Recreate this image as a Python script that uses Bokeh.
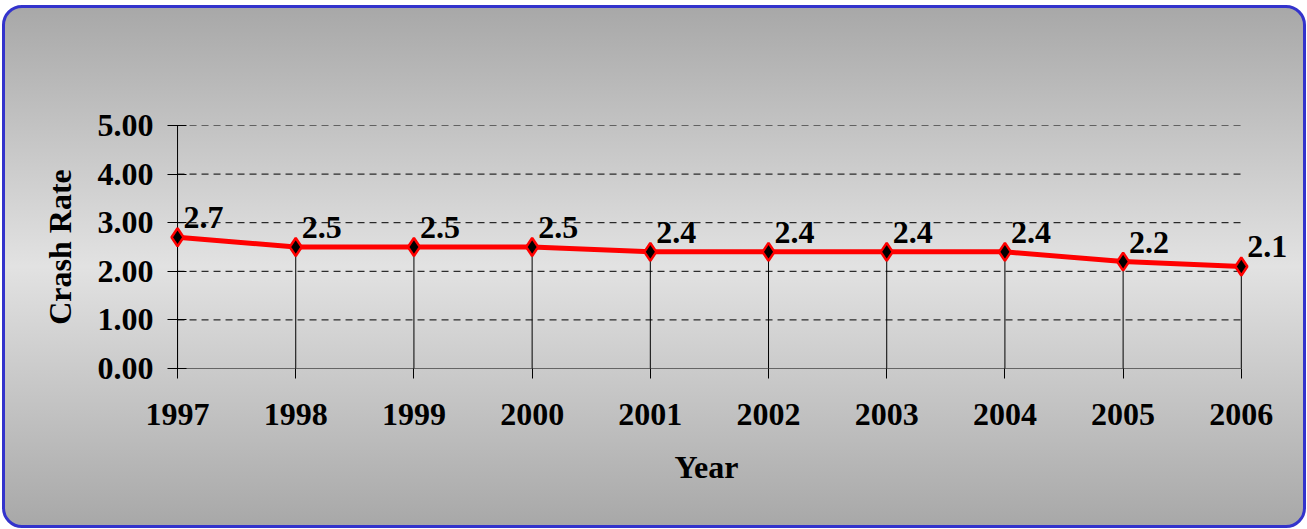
from bokeh.plotting import figure
from bokeh.models import (ColumnDataSource, LabelSet, FixedTicker, Range1d,
                          NumeralTickFormatter, BasicTickFormatter, Title)
from bokeh.embed import file_html
from bokeh.resources import INLINE

years = [1997, 1998, 1999, 2000, 2001, 2002, 2003, 2004, 2005, 2006]
rates = [2.7, 2.5, 2.5, 2.5, 2.4, 2.4, 2.4, 2.4, 2.2, 2.1]
rate_labels = ["2.7", "2.5", "2.5", "2.5", "2.4", "2.4", "2.4", "2.4", "2.2", "2.1"]
y_ticks = [0, 1, 2, 3, 4, 5]

FONT = "Liberation Serif"
FS = "32px"

src = ColumnDataSource(dict(x=years, y=rates, lab=rate_labels, zero=[0] * len(years)))

PAD_L = 0.068   # small padding so the first marker is not clipped
PAD_R = 0.45    # room for the last data label
p = figure(frame_width=1125, frame_height=243,
           min_border_left=164, min_border_right=9,
           min_border_top=117, min_border_bottom=157,
           x_range=Range1d(years[0] - PAD_L, years[-1] + PAD_R),
           y_range=Range1d(y_ticks[0], y_ticks[-1]),
           output_backend="svg", toolbar_location=None)

p.background_fill_color = None
p.border_fill_color = None
p.outline_line_color = None
p.styles = {
    "background": "linear-gradient(to bottom, #a8a8a8 0%, #e2e2e2 50%, #a8a8a8 100%)",
    "border": "3px solid #3333cc",
    "border-radius": "20px",
    "box-sizing": "border-box",
    "margin": "5px 0 0 2px",
}

p.xgrid.grid_line_color = None
p.ygrid.grid_line_color = None

# dashed horizontal gridlines spanning the categories
grid_y = y_ticks[1:]
p.segment(x0=[years[0]] * len(grid_y), x1=[years[-1]] * len(grid_y),
          y0=grid_y, y1=grid_y, line_color="#000000", line_width=1,
          line_dash="7 5")
# axis lines (x baseline and y axis at first year)
p.segment(x0=[years[0]], x1=[years[-1]], y0=[y_ticks[0]], y1=[y_ticks[0]],
          line_color="black", line_width=1)
p.segment(x0=[years[0]], x1=[years[0]], y0=[y_ticks[0]], y1=[y_ticks[-1]],
          line_color="black", line_width=1)
# drop lines
p.segment(x0="x", y0="zero", x1="x", y1="y", source=src, line_color="black", line_width=1)

p.line("x", "y", source=src, line_color="#ff0000", line_width=5)
p.scatter("x", "y", source=src, marker="diamond", size=18, fill_color="black",
          line_color="#ff0000", line_width=2.5)

labels = LabelSet(x="x", y="y", text="lab", source=src, x_offset=6, y_offset=9,
                  text_font=FONT, text_font_style="bold", text_font_size=FS,
                  text_color="black", text_baseline="alphabetic")
p.add_layout(labels)

# axes
p.xaxis.ticker = FixedTicker(ticks=years)
p.xaxis.formatter = BasicTickFormatter(use_scientific=False)
p.xaxis.axis_line_color = None
p.xaxis.major_tick_out = 10
p.xaxis.major_tick_in = 0
p.xaxis.minor_tick_line_color = None
p.xaxis.major_tick_line_color = "black"
p.xaxis.major_label_standoff = 25

# x-axis title, centred under the year span (frame is wider on the right)
x_title = Title(text="Year", align="left", offset=505, standoff=38,
                text_font=FONT, text_font_style="bold", text_font_size=FS,
                text_color="black")
p.add_layout(x_title, "below")

p.yaxis.ticker = FixedTicker(ticks=y_ticks)
p.yaxis.formatter = NumeralTickFormatter(format="0.00")
p.yaxis.axis_line_color = None
p.yaxis.major_tick_out = 2
p.yaxis.major_tick_in = 17
p.yaxis.major_tick_line_color = "black"
p.yaxis.minor_tick_line_color = None
p.yaxis.major_label_standoff = 14
p.yaxis.axis_label = "Crash Rate"
p.yaxis.axis_label_standoff = 17

for ax in (p.xaxis[0], p.yaxis[0]):
    ax.major_label_text_font = FONT
    ax.major_label_text_font_style = "bold"
    ax.major_label_text_font_size = FS
    ax.major_label_text_color = "black"
    ax.axis_label_text_font = FONT
    ax.axis_label_text_font_style = "bold"
    ax.axis_label_text_font_size = FS
    ax.axis_label_text_color = "black"

open("out.html", "w").write(file_html(p, INLINE))
